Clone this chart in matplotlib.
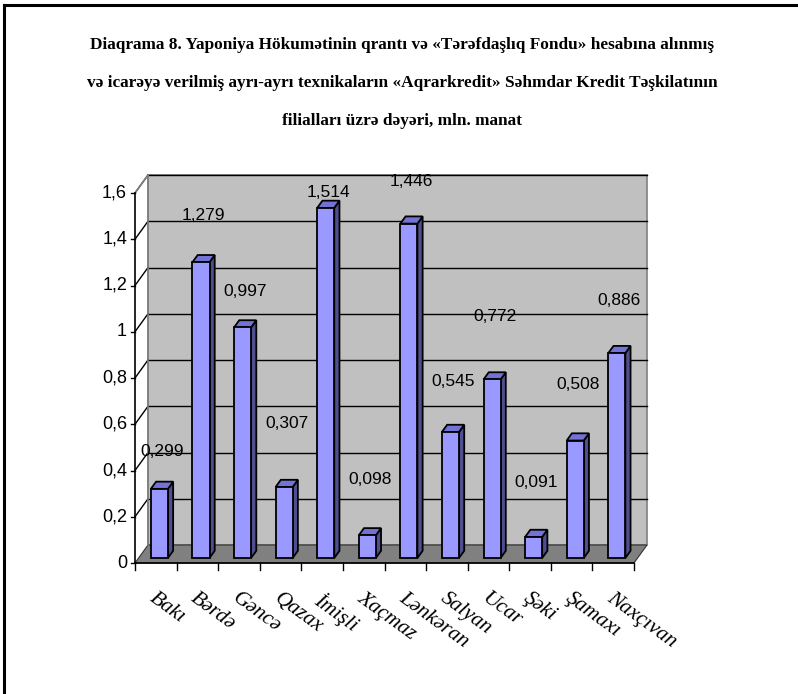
import matplotlib
matplotlib.use("Agg")
import matplotlib.pyplot as plt
from matplotlib.patches import Polygon, Rectangle
from matplotlib.lines import Line2D

# ---------------- data ----------------
categories = ["Bakı", "Bərdə", "Gəncə", "Qazax", "İmişli", "Xaçmaz",
              "Lənkəran", "Salyan", "Ucar", "Şəki", "Şamaxı", "Naxçıvan"]
values = [0.299, 1.279, 0.997, 0.307, 1.514, 0.098,
          1.446, 0.545, 0.772, 0.091, 0.508, 0.886]
value_labels = ["0,299", "1,279", "0,997", "0,307", "1,514", "0,098",
                "1,446", "0,545", "0,772", "0,091", "0,508", "0,886"]
y_ticks = [0, 0.2, 0.4, 0.6, 0.8, 1.0, 1.2, 1.4, 1.6]
y_tick_labels = ["0", "0,2", "0,4", "0,6", "0,8", "1", "1,2", "1,4", "1,6"]
title_lines = [
    "Diaqrama 8. Yaponiya Hökumətinin qrantı və «Tərəfdaşlıq Fondu» hesabına alınmış",
    "və icarəyə verilmiş ayrı-ayrı texnikaların «Aqrarkredit» Səhmdar Kredit Təşkilatının",
    "filialları üzrə dəyəri, mln. manat",
]

# ---------------- layout / style ----------------
W, H = 798, 694
label_lift = [0.181, 0.222, 0.179, 0.298, 0.090, 0.261,
              0.202, 0.238, 0.292, 0.255, 0.266, 0.247]
SANS = ["Liberation Sans Narrow", "Liberation Sans", "DejaVu Sans"]
SERIF = ["Liberation Serif", "DejaVu Serif"]

fig = plt.figure(figsize=(W / 100, H / 100), dpi=100)
fig.patch.set_facecolor("white")

# front plane of the 3-D plot in pixels
x_left, x_right = 135, 634
y_zero, y_top = 563, 193
ax = fig.add_axes([x_left / W, (H - y_zero) / H,
                   (x_right - x_left) / W, (y_zero - y_top) / H])
n = len(categories)
ymax = 1.6
ax.set_xlim(0, n)
ax.set_ylim(0, ymax)
ax.axis("off")

px_x = (x_right - x_left) / n          # pixels per category
px_y = (y_zero - y_top) / ymax         # pixels per unit
DX = 13 / px_x                         # depth offset in data units
DY = 18 / px_y

def add(p, z):
    p.set_clip_on(False)
    p.set_zorder(z)
    ax.add_patch(p)

def line(xs, ys, color="black", lw=1.0, z=2):
    ax.add_line(Line2D(xs, ys, color=color, lw=lw, zorder=z, clip_on=False))

# back wall
add(Rectangle((DX, DY), n, ymax, facecolor="#C0C0C0", edgecolor="#808080", lw=1.2), 1)
# floor
add(Polygon([(0, 0), (n, 0), (n + DX, DY), (DX, DY)], closed=True,
            facecolor="#808080", edgecolor="#333333", lw=0.8), 1.5)
# gridlines
for v in y_ticks[1:]:
    line([DX, n + DX], [v + DY, v + DY], color="black", lw=1.0, z=1.6)
    line([0, DX], [v, v + DY], color="black", lw=1.0, z=1.6)
line([0, DX], [ymax, ymax + DY], color="#808080", lw=1.2, z=1.7)
line([DX, DX], [DY, ymax + DY], color="#808080", lw=1.2, z=1.7)
# front axes
line([0, 0], [0, ymax], color="black", lw=1.2, z=5)
line([0, n], [0, 0], color="black", lw=1.2, z=5)
for v, lab in zip(y_ticks, y_tick_labels):
    line([-4 / px_x, 0], [v, v], color="black", lw=1.0, z=5)
    ax.text(-8 / px_x, v, lab, ha="right", va="center", fontsize=13,
            family=SANS)
for i in range(n + 1):
    line([i, i], [0, -7 / px_y], color="black", lw=1.0, z=5)

# bars
w = 0.41
f = 5 / 18
d = 0.4
for i, v in enumerate(values):
    x0 = i + 0.5 - w / 2 + f * DX
    y0 = f * DY
    front = Rectangle((x0, y0), w, v, facecolor="#9999FF", edgecolor="black", lw=1.3)
    side = Polygon([(x0 + w, y0), (x0 + w + d * DX, y0 + d * DY),
                    (x0 + w + d * DX, y0 + v + d * DY), (x0 + w, y0 + v)],
                   closed=True, facecolor="#4F4F8F", edgecolor="black", lw=1.3)
    top = Polygon([(x0, y0 + v), (x0 + w, y0 + v),
                   (x0 + w + d * DX, y0 + v + d * DY), (x0 + d * DX, y0 + v + d * DY)],
                  closed=True, facecolor="#7373D6", edgecolor="black", lw=1.3)
    add(side, 3)
    add(top, 3)
    add(front, 3.1)

# value labels
for i, (v, lab) in enumerate(zip(values, value_labels)):
    ax.text(i + 0.5 + 0.15, v + label_lift[i], lab, ha="center", va="center",
            fontsize=12.5, family=SANS, zorder=6)

# category labels
for i, cat in enumerate(categories):
    ax.text(i + 0.52, -26 / px_y, cat, ha="left", va="top", rotation=-36,
            rotation_mode="anchor", fontsize=15.5, style="italic", family=SERIF,
            zorder=6)

# title
for k, (t, yc) in enumerate(zip(title_lines, [45, 83, 121])):
    fig.text(402 / W, 1 - yc / H, t, ha="center", va="center", fontsize=12.4,
             fontweight="bold", family=SERIF)

# outer frame (top and left edges visible)
fig.add_artist(Line2D([3.5 / W, 1.0], [1 - 4.5 / H, 1 - 4.5 / H],
                      transform=fig.transFigure, color="black", lw=2.2))
fig.add_artist(Line2D([3.5 / W, 3.5 / W], [0, 1 - 4.5 / H],
                      transform=fig.transFigure, color="black", lw=2.2))

fig.savefig("out.png", dpi=100)
